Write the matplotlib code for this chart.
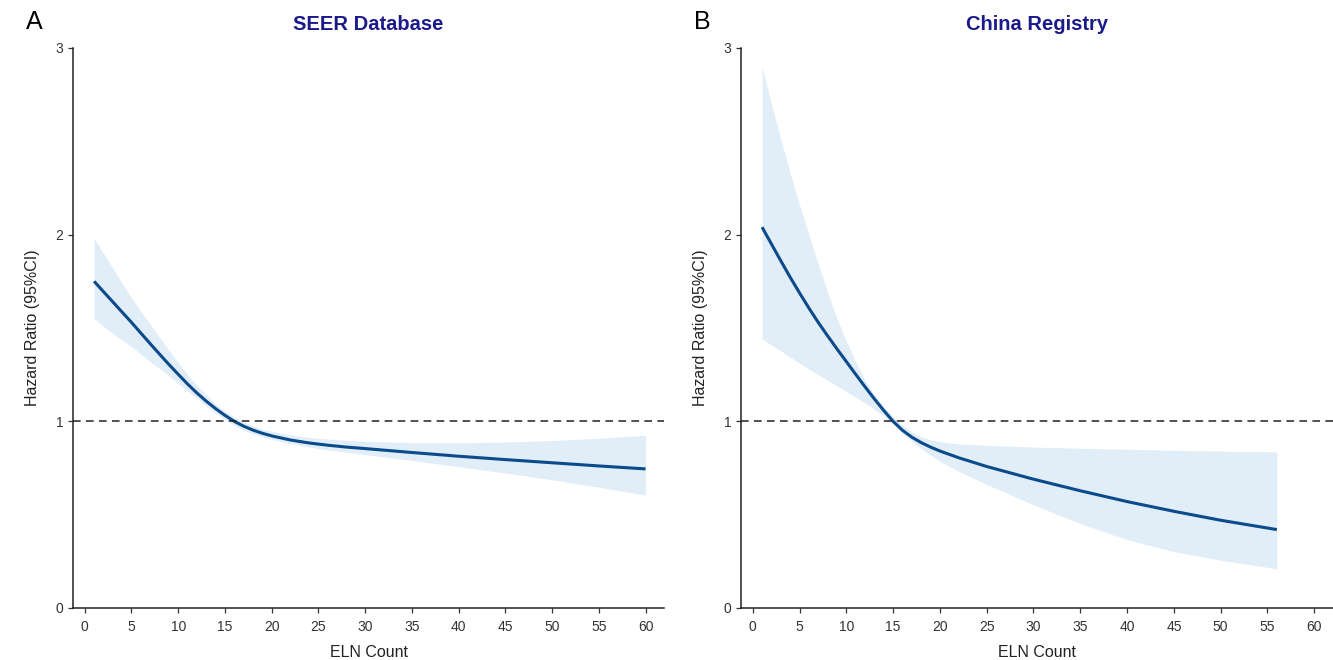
import matplotlib
matplotlib.use("Agg")
import matplotlib.pyplot as plt

plt.rcParams["font.family"] = ["Liberation Sans", "DejaVu Sans"]

# SEER Database
seer_x = [1, 2, 3, 4, 5, 6, 7, 8, 9, 10, 11, 12, 13, 14, 15, 16, 17, 18, 19, 20,
          22, 24, 26, 28, 30, 35, 40, 45, 50, 55, 60]
seer_hr = [1.75, 1.695, 1.64, 1.585, 1.53, 1.473, 1.416, 1.36, 1.305, 1.252, 1.20, 1.152,
           1.108, 1.068, 1.032, 1.0, 0.974, 0.953, 0.936, 0.922,
           0.90, 0.884, 0.872, 0.862, 0.854, 0.833, 0.813, 0.795, 0.778, 0.761, 0.745]
seer_hi = [1.98, 1.90, 1.82, 1.74, 1.66, 1.59, 1.52, 1.45, 1.38, 1.313, 1.25, 1.192,
           1.14, 1.094, 1.055, 1.022, 0.996, 0.975, 0.959, 0.946,
           0.927, 0.914, 0.905, 0.898, 0.893, 0.886, 0.885, 0.889, 0.897, 0.909, 0.925]
seer_lo = [1.55, 1.51, 1.47, 1.435, 1.40, 1.36, 1.32, 1.283, 1.243, 1.203, 1.163, 1.123,
           1.083, 1.045, 1.01, 0.977, 0.953, 0.933, 0.917, 0.903,
           0.88, 0.862, 0.847, 0.834, 0.822, 0.79, 0.757, 0.723, 0.687, 0.647, 0.605]

# China Registry
china_x = [1, 2, 3, 4, 5, 6, 7, 8, 9, 10, 11, 12, 13, 14, 15, 16, 17, 18, 19, 20,
           22, 25, 30, 35, 40, 45, 50, 56]
china_hr = [2.04, 1.95, 1.86, 1.772, 1.688, 1.607, 1.53, 1.458, 1.388, 1.32, 1.252, 1.185,
            1.12, 1.058, 1.0, 0.952, 0.915, 0.886, 0.862, 0.841,
            0.805, 0.758, 0.69, 0.628, 0.57, 0.518, 0.47, 0.42]
china_hi = [2.90, 2.70, 2.51, 2.33, 2.16, 2.00, 1.84, 1.69, 1.55, 1.43, 1.32, 1.22,
            1.14, 1.078, 1.025, 0.978, 0.942, 0.917, 0.901, 0.891,
            0.879, 0.871, 0.862, 0.856, 0.85, 0.845, 0.84, 0.836]
china_lo = [1.44, 1.41, 1.378, 1.345, 1.312, 1.28, 1.25, 1.22, 1.19, 1.16, 1.13, 1.099,
            1.066, 1.03, 0.985, 0.937, 0.893, 0.853, 0.818, 0.787,
            0.732, 0.662, 0.553, 0.452, 0.366, 0.302, 0.256, 0.21]

titles = ["SEER Database", "China Registry"]
letters = ["A", "B"]
x_ticks = list(range(0, 61, 5))
y_ticks = [0, 1, 2, 3]

LINE = "#0b4a8b"
FILL = "#dceaf6"
TITLE = "#1a1a8a"


def draw(ax, x, hr, lo, hi, title):
    ax.fill_between(x, lo, hi, color=FILL, alpha=0.85, linewidth=0)
    ax.plot(x, hr, color=LINE, linewidth=2.2, solid_capstyle="butt",
            solid_joinstyle="round")
    ax.axhline(1, color="#222222", linewidth=1.1, dashes=(5, 3.5))
    ax.set_xlim(-1.25, 62)
    ax.set_ylim(0, 3)
    ax.set_xticks(x_ticks)
    ax.set_yticks(y_ticks)
    for s in ["top", "right"]:
        ax.spines[s].set_visible(False)
    for s in ["left", "bottom"]:
        ax.spines[s].set_linewidth(1.1)
        ax.spines[s].set_color("#222222")
    ax.tick_params(length=3.5, width=0.9, color="#333333", labelcolor="#333333",
                   labelsize=10)
    ax.tick_params(axis="x", pad=5)
    ax.set_xlabel("ELN Count", fontsize=11.5, color="#222222")
    ax.set_ylabel("Hazard Ratio (95%CI)", fontsize=11.5, color="#222222")
    ax.xaxis.set_label_coords(0.5, -0.066)
    ax.yaxis.set_label_coords(-0.056, 0.5)
    ax.set_title(title, fontsize=14.5, fontweight="bold", color=TITLE, pad=13)


fig = plt.figure(figsize=(13.33, 6.6), dpi=100)
ax1 = fig.add_axes([0.0548, 0.0788, 0.4435, 0.8485])
ax2 = fig.add_axes([0.5559, 0.0788, 0.4441, 0.8485])

draw(ax1, seer_x, seer_hr, seer_lo, seer_hi, titles[0])
draw(ax2, china_x, china_hr, china_lo, china_hi, titles[1])

fig.text(0.0255, 0.966, letters[0], fontsize=18, ha="center", va="center")
fig.text(0.5266, 0.966, letters[1], fontsize=18, ha="center", va="center")

fig.savefig("out.png", dpi=100)
